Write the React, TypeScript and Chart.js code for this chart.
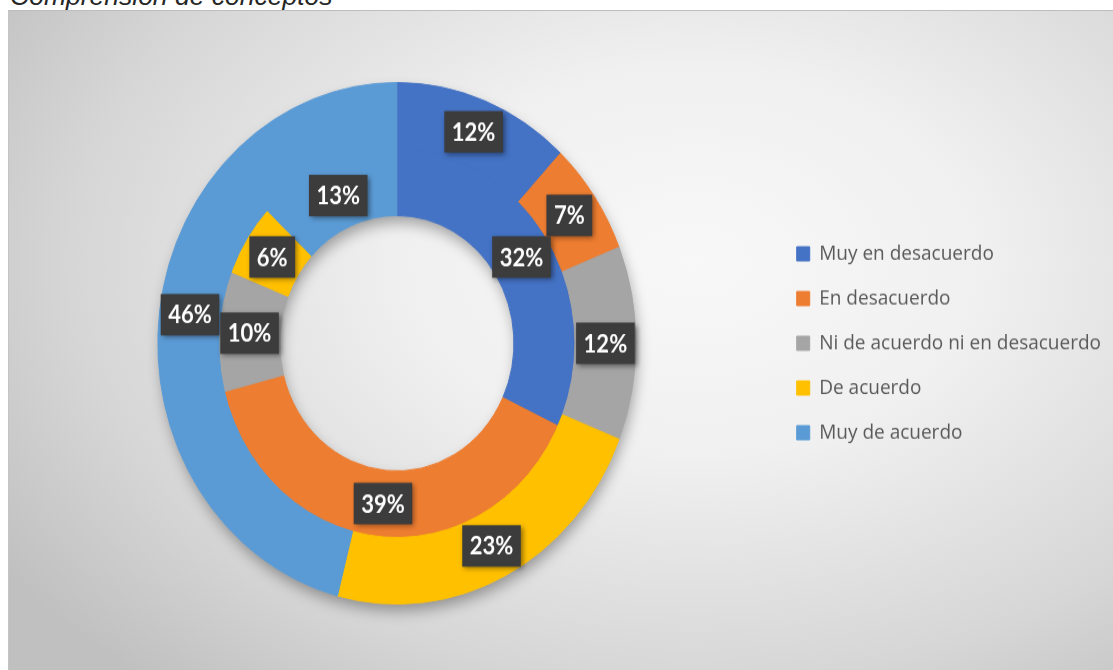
import React, { useEffect, useRef } from "react";
import { Chart, registerables } from "chart.js";

Chart.register(...registerables);

const titleText = "Comprensión de conceptos";
const categories = [
  "Muy en desacuerdo",
  "En desacuerdo",
  "Ni de acuerdo ni en desacuerdo",
  "De acuerdo",
  "Muy de acuerdo",
];
const outerValues = [12, 7, 12, 23, 46];
const innerValues = [32, 39, 10, 6, 13];
const sliceColors = ["#4472C4", "#ED7D31", "#A5A5A5", "#FFC000", "#5B9BD5"];

const STRETCH_Y = 1.0909;

const ringShadowPlugin = {
  id: "ringShadow",
  beforeDatasetsDraw(chart: any) {
    const outer = chart.getDatasetMeta(0).data[0];
    const inner = chart.getDatasetMeta(1).data[0];
    if (!outer || !inner) return;
    const { x, y, outerRadius } = outer.getProps(["x", "y", "outerRadius"], true);
    const { innerRadius } = inner.getProps(["innerRadius"], true);
    const ctx = chart.ctx;
    ctx.save();
    ctx.shadowColor = "rgba(0,0,0,0.35)";
    ctx.shadowBlur = 14;
    ctx.shadowOffsetX = 2;
    ctx.shadowOffsetY = 7;
    ctx.beginPath();
    ctx.arc(x, y, outerRadius - 1, 0, Math.PI * 2);
    ctx.arc(x, y, innerRadius + 1, 0, Math.PI * 2, true);
    ctx.fillStyle = "#999999";
    ctx.fill();
    ctx.restore();
  },
};

const boxLabelPlugin = {
  id: "boxLabels",
  afterDatasetsDraw(chart: any) {
    const ctx = chart.ctx;
    ctx.save();
    ctx.font = "bold 22px Lato";
    ctx.textAlign = "center";
    ctx.textBaseline = "middle";
    chart.data.datasets.forEach((ds: any, di: number) => {
      const meta = chart.getDatasetMeta(di);
      meta.data.forEach((arc: any, i: number) => {
        const p = arc.getProps(
          ["x", "y", "startAngle", "endAngle", "innerRadius", "outerRadius"],
          true
        );
        const mid = (p.startAngle + p.endAngle) / 2;
        const r = (p.innerRadius + p.outerRadius) / 2;
        const cx = p.x + Math.cos(mid) * r;
        const cy = p.y + Math.sin(mid) * r;
        const text = ds.data[i] + "%";
        const tw = ctx.measureText(text).width;
        const w = tw + 15;
        const h = 38;
        ctx.save();
        ctx.shadowColor = "rgba(0,0,0,0.45)";
        ctx.shadowBlur = 5;
        ctx.shadowOffsetX = 2;
        ctx.shadowOffsetY = 2;
        ctx.fillStyle = "#3c3c3c";
        ctx.fillRect(cx - w / 2, cy - h / 2, w, h);
        ctx.restore();
        ctx.fillStyle = "#ffffff";
        ctx.fillText(text, cx, cy + 1);
      });
    });
    ctx.restore();
  },
};

export default function App() {
  const canvasRef = useRef<HTMLCanvasElement | null>(null);

  useEffect(() => {
    if (!canvasRef.current) return;
    const chart = new Chart(canvasRef.current, {
      type: "doughnut",
      data: {
        labels: categories,
        datasets: [
          {
            label: "Serie 1",
            data: outerValues,
            backgroundColor: sliceColors,
            borderColor: sliceColors,
            borderWidth: 1,
          },
          {
            label: "Serie 2",
            data: innerValues,
            backgroundColor: sliceColors,
            borderColor: sliceColors,
            borderWidth: 1,
          },
        ],
      },
      options: {
        animation: false,
        responsive: true,
        maintainAspectRatio: false,
        radius: 239,
        cutout: "49%",
        layout: { padding: { left: 11, right: 2, top: 6, bottom: 0 } },
        plugins: {
          legend: {
            position: "right",
            labels: {
              font: { family: "'Open Sans'", size: 19 },
              color: "#595959",
              boxWidth: 13,
              boxHeight: 13,
              padding: 22,
            },
          },
          tooltip: { enabled: false },
        },
      } as any,
      plugins: [ringShadowPlugin, boxLabelPlugin],
    });
    return () => chart.destroy();
  }, []);

  return (
    <div
      style={{
        position: "absolute",
        left: 0,
        top: 0,
        width: 1113,
        height: 670,
        overflow: "hidden",
        background: "#ffffff",
      }}
    >
      <div
        style={{
          position: "absolute",
          left: 10,
          top: -17,
          fontFamily: "'Liberation Sans', Arial, sans-serif",
          fontStyle: "italic",
          fontSize: 26.5,
          lineHeight: "26px",
          color: "#262626",
          whiteSpace: "nowrap",
        }}
      >
        {titleText}
      </div>
      <div
        style={{
          position: "absolute",
          left: 8,
          top: 10,
          width: 1105,
          height: 660,
          overflow: "hidden",
          borderTop: "1px solid #bdbdbd",
          borderLeft: "1px solid #c4c4c4",
          boxSizing: "border-box",
          background:
            "radial-gradient(ellipse 75% 85% at 62% 38%, #f8f8f8 0%, #f0f0f0 35%, #d6d6d6 75%, #c0c0c0 100%)",
        }}
      >
        <div
          style={{
            position: "absolute",
            left: -1,
            top: -1,
            width: 1105,
            height: 605,
            transform: `scaleY(${STRETCH_Y})`,
            transformOrigin: "top left",
          }}
        >
          <canvas ref={canvasRef} />
        </div>
      </div>
    </div>
  );
}
